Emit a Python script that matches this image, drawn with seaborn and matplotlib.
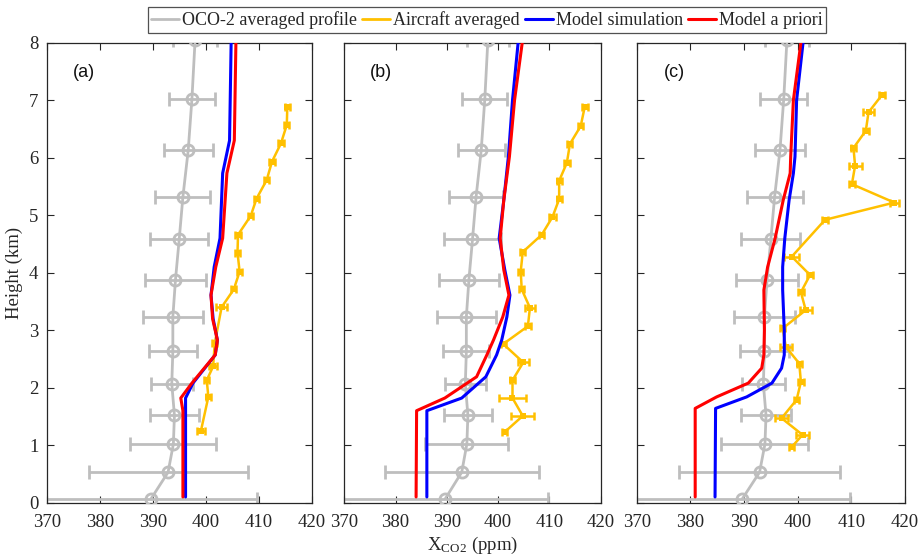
import numpy as np
import pandas as pd
import matplotlib
matplotlib.use('Agg')
import matplotlib.pyplot as plt
import seaborn as sns
from matplotlib.lines import Line2D

# Perfil OCO-2 (igual en los tres paneles)
oco_height = [0.07, 0.53, 1.02, 1.52, 2.07, 2.63, 3.23, 3.88, 4.58, 5.32, 6.13, 7.02, 8.05]
oco_xco2 = [389.7, 392.9, 393.9, 394.1, 393.6, 393.8, 393.8, 394.3, 395.0, 395.7, 396.7, 397.4, 398.0]
oco_err = [20.0, 15.0, 8.1, 4.7, 4.0, 4.5, 5.7, 5.8, 5.5, 5.2, 4.6, 4.4, 4.1]

# Avión, panel (a)
air_a_height = [6.89, 6.57, 6.25, 5.93, 5.61, 5.29, 4.99, 4.66, 4.35, 4.02, 3.71, 3.40, 2.77, 2.37, 2.13, 1.84, 1.25]
air_a_xco2 = [415.4, 415.3, 414.2, 412.5, 411.5, 409.6, 408.5, 406.1, 406.0, 406.4, 405.3, 403.0, 401.7, 401.4, 400.2, 400.5, 399.1]
air_a_err = [0.5, 0.5, 0.5, 0.5, 0.5, 0.5, 0.5, 0.5, 0.5, 0.5, 0.5, 1.0, 0.5, 0.8, 0.5, 0.5, 0.8]

# Avión, panel (b)
air_b_height = [6.89, 6.55, 6.24, 5.91, 5.60, 5.28, 4.97, 4.66, 4.36, 4.02, 3.71, 3.39, 3.07, 2.76, 2.44, 2.13, 1.82, 1.51, 1.23]
air_b_xco2 = [416.9, 416.1, 414.0, 413.4, 411.9, 411.9, 410.6, 408.5, 404.8, 404.4, 404.6, 406.2, 405.8, 401.0, 404.9, 402.8, 402.8, 404.8, 401.3]
air_b_err = [0.6, 0.5, 0.5, 0.6, 0.5, 0.5, 0.6, 0.5, 0.5, 0.5, 0.5, 1.0, 0.6, 0.5, 1.1, 0.5, 2.7, 2.2, 0.5]

# Avión, panel (c)
air_c_height = [7.09, 6.79, 6.47, 6.17, 5.86, 5.54, 5.22, 4.92, 4.28, 3.96, 3.66, 3.35, 3.03, 2.71, 2.42, 2.10, 1.79, 1.47, 1.18, 0.97]
air_c_xco2 = [415.7, 413.2, 412.7, 410.4, 410.7, 410.1, 418.0, 405.1, 398.9, 402.3, 400.6, 401.5, 397.2, 397.8, 400.3, 400.6, 399.8, 397.0, 400.9, 398.9]
air_c_err = [0.6, 1.0, 0.5, 0.5, 1.2, 0.5, 0.8, 0.5, 1.4, 0.5, 0.5, 1.1, 0.5, 1.1, 0.5, 0.5, 0.5, 1.2, 1.2, 0.5]

# Modelo, panel (a)
mod_a_height = [0.1, 1.6, 1.82, 2.08, 2.57, 2.83, 3.2, 3.61, 4.1, 4.6, 5.73, 6.3, 8.0]
mod_a_sim = [396.2, 396.2, 396.2, 397.6, 401.8, 402.2, 401.4, 401.0, 401.6, 402.7, 403.2, 404.5, 404.8]
mod_a_prior = [395.7, 395.7, 395.3, 397.4, 401.8, 402.2, 401.3, 401.0, 401.9, 403.2, 404.0, 405.4, 405.7]

# Modelo, panel (b)
mod_b_height = [0.1, 1.6, 1.82, 2.19, 2.57, 2.83, 3.23, 3.61, 4.05, 4.6, 5.26, 6.02, 7.0, 8.0]
mod_b_sim = [386.1, 386.1, 392.9, 397.6, 399.7, 400.7, 401.7, 402.3, 401.3, 400.2, 401.1, 402.0, 402.8, 403.9]
mod_b_prior = [384.0, 384.1, 389.6, 395.8, 397.8, 399.1, 400.9, 402.1, 401.1, 400.4, 401.1, 402.2, 403.2, 404.7]

# Modelo, panel (c)
mod_c_height = [0.1, 1.64, 1.84, 2.08, 2.34, 2.57, 3.0, 3.7, 4.1, 4.6, 5.26, 5.73, 6.02, 7.0, 8.0]
mod_c_sim = [384.6, 384.7, 390.5, 395.2, 397.0, 397.5, 397.5, 397.2, 397.2, 397.6, 398.4, 399.2, 399.5, 399.8, 401.0]
mod_c_prior = [380.9, 380.9, 384.9, 390.8, 393.3, 393.7, 393.8, 393.7, 394.4, 395.8, 397.3, 398.6, 398.7, 399.2, 400.6]

panel_labels = ['(a)', '(b)', '(c)']
legend_labels = ['OCO-2 averaged profile', 'Aircraft averaged', 'Model simulation', 'Model a priori']
x_ticks = [370, 380, 390, 400, 410, 420]
y_ticks = [0, 1, 2, 3, 4, 5, 6, 7, 8]

GRAY = '#BEBEBE'
GOLD = '#FFC000'
BLUE = '#0000FF'
RED = '#FF0000'

sns.set_style('ticks')
plt.rcParams['font.family'] = ['Liberation Serif', 'DejaVu Serif']
plt.rcParams['mathtext.fontset'] = 'stix'

fig = plt.figure(figsize=(9.19, 5.55), dpi=100)
positions = [
    [46.7 / 919, 52.3 / 555, 265.0 / 919, 460 / 555],
    [344.3 / 919, 52.3 / 555, 256.4 / 919, 460 / 555],
    [636.7 / 919, 52.3 / 555, 268.3 / 919, 460 / 555],
]

aircraft = [
    (air_a_height, air_a_xco2, air_a_err),
    (air_b_height, air_b_xco2, air_b_err),
    (air_c_height, air_c_xco2, air_c_err),
]
model = [
    (mod_a_height, mod_a_sim, mod_a_prior),
    (mod_b_height, mod_b_sim, mod_b_prior),
    (mod_c_height, mod_c_sim, mod_c_prior),
]

axes = []
for i in range(3):
    ax = fig.add_axes(positions[i])
    axes.append(ax)

    # OCO-2 con barras de error
    ax.errorbar(oco_xco2, oco_height, xerr=oco_err, fmt='none', ecolor=GRAY,
                elinewidth=2, capsize=5, capthick=2, zorder=2)
    oco_df = pd.DataFrame({'h': oco_height, 'x': oco_xco2})
    sns.lineplot(data=oco_df, x='x', y='h', orient='y', ax=ax, color=GRAY, lw=2,
                 marker='o', markersize=8, markerfacecolor='none', markeredgecolor=GRAY,
                 markeredgewidth=2, legend=False, zorder=3)

    # Avión
    ah, ax_vals, ae = aircraft[i]
    ax.errorbar(ax_vals, ah, xerr=ae, fmt='none', ecolor=GOLD,
                elinewidth=1.8, capsize=3, capthick=1.8, zorder=4)
    air_df = pd.DataFrame({'h': ah, 'x': ax_vals})
    sns.lineplot(data=air_df, x='x', y='h', orient='y', ax=ax, color=GOLD, lw=1.8,
                 marker='s', markersize=4, markeredgewidth=0, legend=False, zorder=4)

    # Modelo
    mh, msim, mprior = model[i]
    mod_df = pd.DataFrame({'h': mh, 'sim': msim, 'prior': mprior})
    sns.lineplot(data=mod_df, x='sim', y='h', orient='y', ax=ax, color=BLUE, lw=2.2,
                 legend=False, zorder=5)
    sns.lineplot(data=mod_df, x='prior', y='h', orient='y', ax=ax, color=RED, lw=2.2,
                 legend=False, zorder=6)

    ax.set_xlim(370, 420)
    ax.set_ylim(0, 8)
    ax.set_xticks(x_ticks)
    ax.set_yticks(y_ticks)
    ax.tick_params(direction='in', top=True, right=True, length=5, width=0.8,
                   colors='#262626', labelsize=13.5, pad=6)
    ax.tick_params(axis='x', pad=8)
    for s in ax.spines.values():
        s.set_color('#262626')
        s.set_linewidth(0.9)
    ax.set_xlabel('')
    ax.set_ylabel('')
    if i > 0:
        ax.set_yticklabels([])
    ax.text(0.1, 0.935, panel_labels[i], transform=ax.transAxes, fontsize=13,
            family='Liberation Sans', va='center', ha='left', color='#111111')

axes[0].set_ylabel('Height (km)', fontsize=13.5, labelpad=4)
axes[1].set_xlabel('X$_{\\mathregular{CO2}}$ (ppm)', fontsize=13.5, labelpad=3)

handles = [
    Line2D([], [], color=GRAY, lw=2),
    Line2D([], [], color=GOLD, lw=2),
    Line2D([], [], color=BLUE, lw=2.2),
    Line2D([], [], color=RED, lw=2.2),
]
leg = fig.legend(handles, legend_labels, loc='center', bbox_to_anchor=(487 / 919, 1 - 20 / 555),
                 ncol=4, frameon=True, fancybox=False, fontsize=13, handlelength=1.55,
                 handletextpad=0.15, columnspacing=0.3, borderpad=0.2, borderaxespad=0)
leg.get_frame().set_edgecolor('#262626')
leg.get_frame().set_linewidth(0.9)

fig.savefig('out.png', dpi=100)
